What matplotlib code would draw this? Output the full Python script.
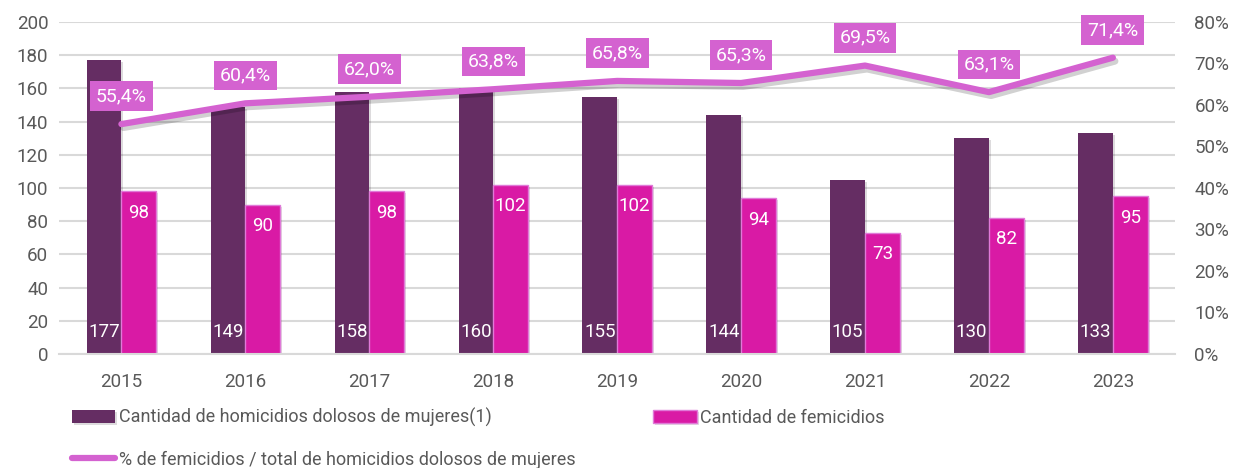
import matplotlib.pyplot as plt
import matplotlib.patheffects as pe
import numpy as np

years = ['2015', '2016', '2017', '2018', '2019', '2020', '2021', '2022', '2023']
homicidios = [177, 149, 158, 160, 155, 144, 105, 130, 133]
femicidios = [98, 90, 98, 102, 102, 94, 73, 82, 95]
porcentaje = [55.4, 60.4, 62.0, 63.8, 65.8, 65.3, 69.5, 63.1, 71.4]

plt.rcParams['font.family'] = ['Roboto', 'DejaVu Sans']
PURPLE = '#652D63'
PINK = '#D91AA5'
ORCHID = '#D462D0'
GREY = '#595959'

fig = plt.figure(figsize=(12.38, 4.68), dpi=100)
ax = fig.add_axes([0.048, 0.2436, 0.901, 0.7094])
x = np.arange(len(years))
w = 0.28

shadow = [pe.SimplePatchShadow(offset=(1.5, -1.5), alpha=0.15), pe.Normal()]
b1 = ax.bar(x - w / 2, homicidios, w, color=PURPLE, zorder=2, path_effects=shadow,
            label='Cantidad de homicidios dolosos de mujeres(1)')
b2 = ax.bar(x + w / 2, femicidios, w, color=PINK, edgecolor='#E07AD8', linewidth=1,
            zorder=2, path_effects=shadow, label='Cantidad de femicidios')

for xi, v in zip(x, homicidios):
    ax.text(xi - w / 2, 13, str(v), ha='center', va='center', color='white', fontsize=13.5, zorder=5)
for xi, v in zip(x, femicidios):
    ax.text(xi + w / 2, v - 13, str(v), ha='center', va='center', color='white', fontsize=13.5, zorder=5)

ax.set_ylim(0, 200)
ax.set_yticks(range(0, 201, 20))
ax.set_xlim(-0.5, len(years) - 0.5)
ax.set_xticks(x)
ax.set_xticklabels(years)
ax.grid(axis='y', color='#D9D9D9', linewidth=1.5, zorder=0)
ax.set_axisbelow(True)
for s in ['top', 'right', 'left']:
    ax.spines[s].set_visible(False)
ax.spines['bottom'].set_color('#D9D9D9')
ax.spines['bottom'].set_linewidth(1.5)
ax.tick_params(axis='both', length=0, labelsize=13.5, labelcolor=GREY, pad=8)
ax.tick_params(axis='x', pad=14)

ax2 = ax.twinx()
ax2.set_ylim(0, 80)
ax2.set_yticks(range(0, 81, 10))
ax2.set_yticklabels([f'{t}%' for t in range(0, 81, 10)])
for s in ax2.spines.values():
    s.set_visible(False)
ax2.tick_params(axis='y', length=0, labelsize=13.5, labelcolor=GREY, pad=14)
ax2.plot(x, porcentaje, color=ORCHID, linewidth=4.5, solid_capstyle='round', zorder=3,
         path_effects=[pe.SimpleLineShadow(offset=(1.5, -2.5), alpha=0.18, linewidth=5), pe.Normal()])
ln, = ax2.plot([], [], color=ORCHID, linewidth=4.5, solid_capstyle='round',
               label='% de femicidios / total de homicidios dolosos de mujeres')
for xi, v in zip(x, porcentaje):
    ax2.annotate(f'{v:.1f}'.replace('.', ',') + '%', (xi, v), xytext=(0, 20),
                 textcoords='offset points', ha='center', va='center', color='white', fontsize=14,
                 bbox=dict(boxstyle='square,pad=0.3', fc=ORCHID, ec='none'), zorder=6)

fig.legend(handles=[b1, ln, b2], loc='upper left', bbox_to_anchor=(0.045, 0.163), ncol=2,
           frameon=False, fontsize=13, labelcolor=GREY, columnspacing=4.3,
           handlelength=2.4, handletextpad=0.2, labelspacing=1.3)

fig.savefig('out.png', dpi=100)
